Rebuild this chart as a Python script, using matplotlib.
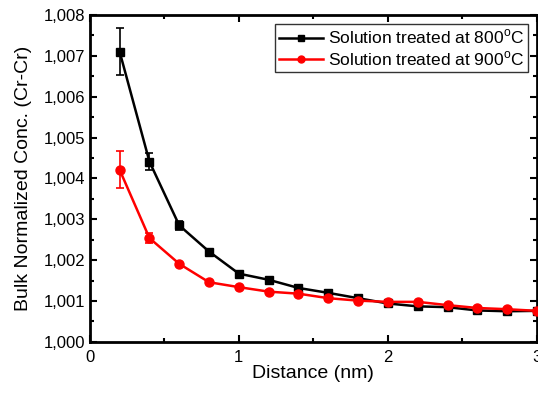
# bulk normalized Cr-Cr concentration vs distance, two solution treatments

import numpy as np
import matplotlib
matplotlib.use('Agg')
import matplotlib.pyplot as plt
from matplotlib.ticker import MultipleLocator, FuncFormatter
from matplotlib.lines import Line2D

plt.rcParams['font.family'] = ['Liberation Sans', 'DejaVu Sans']
plt.rcParams['mathtext.fontset'] = 'custom'
plt.rcParams['mathtext.rm'] = 'Liberation Sans'

distance = [0.2, 0.4, 0.6, 0.8, 1.0, 1.2, 1.4, 1.6, 1.8, 2.0, 2.2, 2.4, 2.6, 2.8, 3.0]

conc_800 = [1.00710, 1.00441, 1.00285, 1.00221, 1.00167, 1.00152, 1.00132, 1.00120,
            1.00107, 1.00094, 1.00087, 1.00085, 1.00077, 1.00075, 1.00076]
err_800 = [0.00058, 0.00020, 0.00010, 0.00006, 0.00004, 0.00004, 0.00003, 0.00003,
           0.00003, 0.00003, 0.00003, 0.00003, 0.00003, 0.00003, 0.00003]

conc_900 = [1.00421, 1.00254, 1.00191, 1.00146, 1.00134, 1.00123, 1.00118, 1.00107,
            1.00101, 1.00098, 1.00098, 1.00090, 1.00083, 1.00080, 1.00076]
err_900 = [0.00045, 0.00012, 0.00005, 0.00004, 0.00003, 0.00003, 0.00003, 0.00003,
           0.00003, 0.00003, 0.00003, 0.00003, 0.00003, 0.00003, 0.00003]

labels = [r'Solution treated at 800$^{\mathrm{o}}$C', r'Solution treated at 900$^{\mathrm{o}}$C']

fig = plt.figure(figsize=(5.38, 3.93), dpi=100)
ax = fig.add_axes([0.167, 0.130, 0.831, 0.832])

ax.errorbar(distance, conc_800, yerr=err_800, color='black', marker='s', markersize=6,
            linewidth=1.8, capsize=3, elinewidth=1.2, capthick=1.2,
            clip_on=False, zorder=3)
ax.errorbar(distance, conc_900, yerr=err_900, color='red', marker='o', markersize=6.5,
            linewidth=1.8, capsize=3, elinewidth=1.2, capthick=1.2,
            clip_on=False, zorder=4)

ax.set_xlim(0, 3)
ax.set_ylim(1.000, 1.008)
ax.xaxis.set_major_locator(MultipleLocator(1))
ax.xaxis.set_minor_locator(MultipleLocator(0.5))
ax.yaxis.set_major_locator(MultipleLocator(0.001))
ax.yaxis.set_minor_locator(MultipleLocator(0.0005))
ax.yaxis.set_major_formatter(FuncFormatter(lambda v, p: f'{v:.3f}'.replace('.', ',')))
ax.xaxis.set_major_formatter(FuncFormatter(lambda v, p: f'{v:g}'))

ax.tick_params(which='both', direction='in', top=True, right=True, width=1.5, labelsize=12)
ax.tick_params(which='major', length=5)
ax.tick_params(which='minor', length=3)
ax.tick_params(axis='x', pad=6)
for s in ax.spines.values():
    s.set_linewidth(2)

ax.set_xlabel('Distance (nm)', fontsize=14, labelpad=0)
ax.set_ylabel('Bulk Normalized Conc. (Cr-Cr)', fontsize=14, labelpad=8)

handles = [Line2D([], [], color='black', marker='s', markersize=4, linewidth=1.8),
           Line2D([], [], color='red', marker='o', markersize=5, linewidth=1.8)]
leg = ax.legend(handles, labels, loc='upper right', fontsize=12.5, frameon=True, fancybox=False,
                edgecolor='black', handlelength=2.5, borderpad=0.25, labelspacing=0.15,
                handletextpad=0.3, borderaxespad=0.5)
leg.get_frame().set_linewidth(1)

fig.savefig('out.png', dpi=100)
